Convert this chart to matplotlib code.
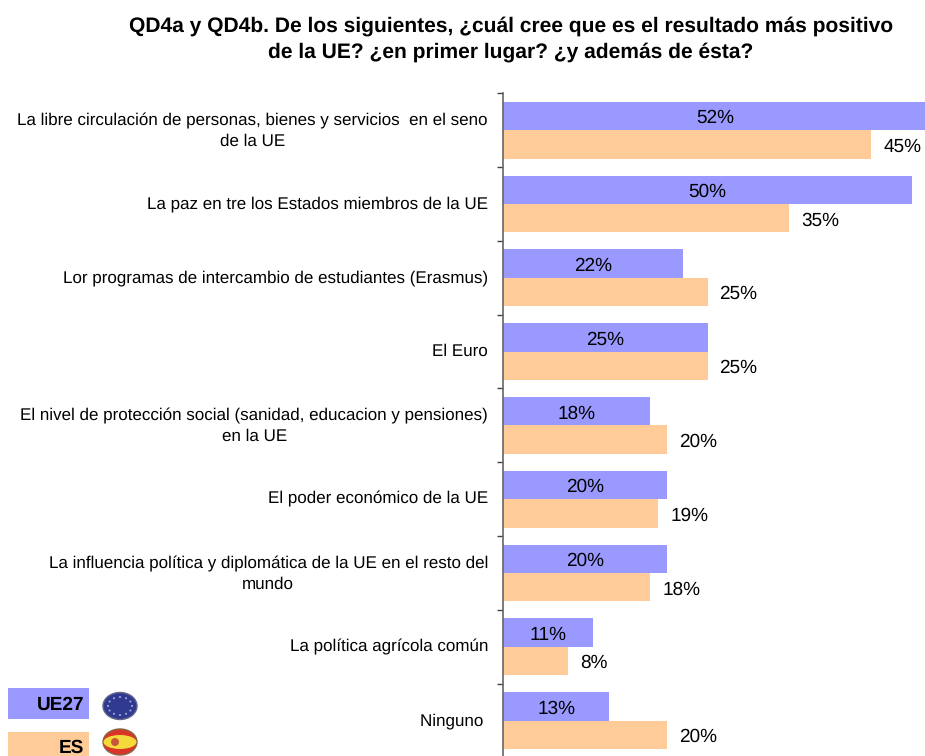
import matplotlib
matplotlib.use('Agg')
import matplotlib.pyplot as plt
import numpy as np
from matplotlib.patches import Ellipse, Rectangle

plt.rcParams['font.family'] = ['Liberation Sans', 'DejaVu Sans']
plt.rcParams['text.hinting'] = 'no_hinting'
plt.rcParams['text.hinting_factor'] = 1

categories = [
    'La libre circulación de personas, bienes y servicios  en el seno\nde la UE',
    'La paz en tre los Estados miembros de la UE',
    'Lor programas de intercambio de estudiantes (Erasmus)',
    'El Euro',
    'El nivel de protección social (sanidad, educacion y pensiones)\nen la UE',
    'El poder económico de la UE',
    'La influencia política y diplomática de la UE en el resto del\nmundo',
    'La política agrícola común',
    'Ninguno ',
]
ue27 = [52, 50, 22, 25, 18, 20, 20, 11, 13]
es = [45, 35, 25, 25, 20, 19, 18, 8, 20]

W, H = 925, 756
BLUE = '#9999ff'
ORANGE = '#ffcc99'

fig = plt.figure(figsize=(W / 100, H / 100), dpi=100)
ax = fig.add_axes([503 / W, (H - 757.5) / H, 422 / W, (757.5 - 93.3) / H])

y = list(range(len(categories)))
bar_h = 0.385
ax.barh([i - bar_h / 2 for i in y], ue27, bar_h, color=BLUE, edgecolor='none')
ax.barh([i + bar_h / 2 for i in y], es, bar_h, color=ORANGE, edgecolor='none')

ax.set_xlim(0, 422 / 8.18)
ax.set_ylim(len(categories) - 0.5, -0.5)

for i in y:
    ax.text(ue27[i] / 2, i - bar_h / 2 + 0.03, '%d%%' % ue27[i], ha='center', va='center',
            fontsize=14, color='black')
    ax.annotate('%d%%' % es[i], (es[i], i + bar_h / 2 + 0.03), xytext=(12, 0),
                textcoords='offset pixels', ha='left', va='center', fontsize=14, color='black',
                annotation_clip=False)

for s in ['top', 'right', 'bottom']:
    ax.spines[s].set_visible(False)
ax.spines['left'].set_color('#666666')
ax.spines['left'].set_linewidth(1.2)
ax.set_xticks([])
ax.set_yticks([i - 0.5 for i in y])
ax.set_yticklabels([])
ax.tick_params(axis='y', length=4.5, width=1, color='#444444')

# category labels, right aligned next to the axis
for i in y:
    dy = -1 if '\n' in categories[i] else 0
    ax.annotate(categories[i], (0, i), xytext=(-15, dy), textcoords='offset pixels',
                ha='right', va='center', multialignment='center', linespacing=1.38,
                fontsize=12.5, color='black', annotation_clip=False)

fig.text(511 / W, 1 - 39 / H,
         'QD4a y QD4b. De los siguientes, ¿cuál cree que es el resultado más positivo\n'
         'de la UE? ¿en primer lugar? ¿y además de ésta?',
         ha='center', va='center', fontsize=15.45, fontweight='bold', linespacing=1.36)

# legend boxes and flags
fig.add_artist(Rectangle((8 / W, 1 - 719 / H), 81 / W, 31 / H, transform=fig.transFigure,
                         facecolor=BLUE, edgecolor='none'))
fig.add_artist(Rectangle((8 / W, 0), 81 / W, 24 / H, transform=fig.transFigure,
                         facecolor=ORANGE, edgecolor='none'))
fig.text(84 / W, 1 - 705 / H, 'UE27', ha='right', va='center', fontsize=14, fontweight='bold')
fig.text(84 / W, 1 - 748 / H, 'ES', ha='right', va='center', fontsize=14, fontweight='bold')

fig.add_artist(Ellipse((120 / W, 1 - 706 / H), 34 / W, 27 / H, transform=fig.transFigure,
                       facecolor='#2f3a90', edgecolor='#666688', linewidth=1))
for a in np.arange(0, 360, 30):
    fig.add_artist(Ellipse(((120 + 12 * np.cos(np.radians(a))) / W,
                            1 - (706 + 9 * np.sin(np.radians(a))) / H),
                           2 / W, 2 / H, transform=fig.transFigure,
                           facecolor='#aab0dd', edgecolor='none'))
fig.add_artist(Ellipse((120 / W, 1 - 742 / H), 34 / W, 26 / H, transform=fig.transFigure,
                       facecolor='#d8342a', edgecolor='#886644', linewidth=1))
fig.add_artist(Ellipse((120 / W, 1 - 742 / H), 33 / W, 14 / H, transform=fig.transFigure,
                       facecolor='#f4d93a', edgecolor='none'))
fig.add_artist(Ellipse((115 / W, 1 - 742 / H), 8 / W, 8 / H, transform=fig.transFigure,
                       facecolor='#c8553a', edgecolor='none'))

fig.savefig('out.png', dpi=100)
